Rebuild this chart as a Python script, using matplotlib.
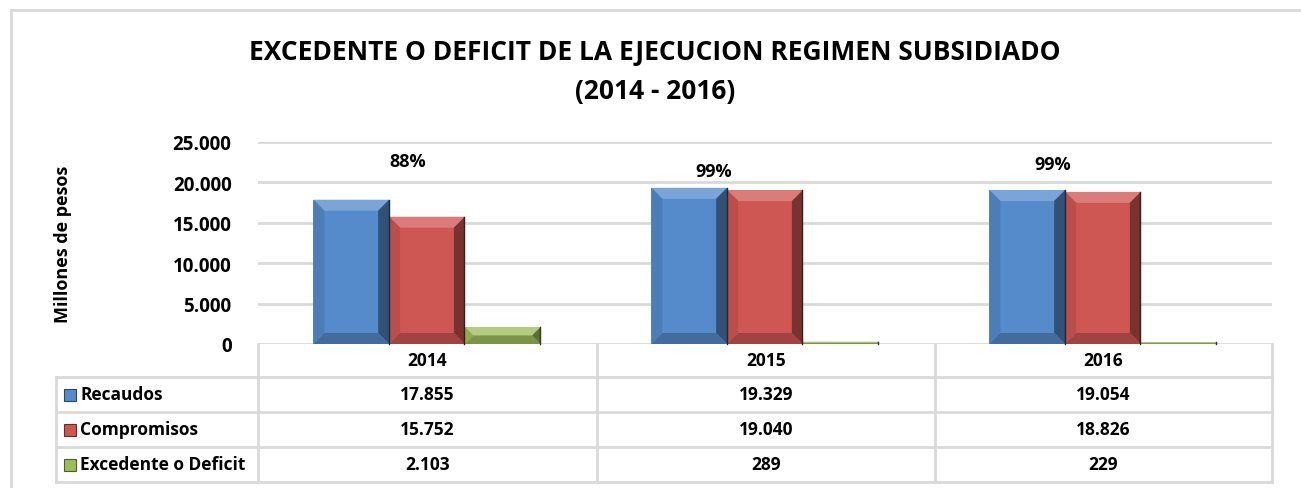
import matplotlib
matplotlib.use("Agg")
import matplotlib.pyplot as plt
from matplotlib.patches import Polygon, Rectangle
from matplotlib.lines import Line2D
from matplotlib.transforms import IdentityTransform
import numpy as np

# data
years = ["2014", "2015", "2016"]
recaudos = [17855, 19329, 19054]
compromisos = [15752, 19040, 18826]
excedente = [2103, 289, 229]
series_names = ["Recaudos", "Compromisos", "Excedente o Deficit"]
pct_labels = ["88%", "99%", "99%"]
yticks = [0, 5000, 10000, 15000, 20000, 25000]

colors = ["#558BCB", "#CF5753", "#9CBF5B"]
grid_c = "#D9D9D9"
FONT = "Open Sans"

W, H = 1301, 489
fig = plt.figure(figsize=(W / 100, H / 100), dpi=100)
plt.rcParams['font.family'] = [FONT, 'DejaVu Sans']


def fx(px):
    return px / W


def fy(py):
    return 1 - py / H


def fmt(v):
    return f"{v:,}".replace(",", ".")


def shade(c, f):
    c = np.array(matplotlib.colors.to_rgb(c))
    if f > 0:
        c = c + (1 - c) * f
    else:
        c = c * (1 + f)
    return tuple(np.clip(c, 0, 1))


# outer chart frame
fig.add_artist(Line2D([fx(11), fx(1301)], [fy(11), fy(11)], color=grid_c, lw=2))
fig.add_artist(Line2D([fx(11), fx(11)], [fy(11), fy(489)], color=grid_c, lw=2))

# plot area
ax_l, ax_r, ax_t, ax_b = 258, 1272, 143, 345
ax = fig.add_axes([fx(ax_l), fy(ax_b), fx(ax_r - ax_l), (ax_b - ax_t) / H])
ax.set_xlim(-0.5, 2.5)
ax.set_ylim(0, 25000)
for s in ax.spines.values():
    s.set_visible(False)
ax.set_xticks([])
ax.set_yticks(yticks)
ax.set_yticklabels([fmt(t) for t in yticks], fontsize=13.5, fontweight="bold")
ax.tick_params(axis="y", length=0, pad=19)
ax.yaxis.grid(True, color=grid_c, lw=2)
ax.set_axisbelow(True)
ax.set_ylabel("Millones de pesos", fontsize=13, fontweight="bold")
ax.yaxis.set_label_coords(-0.183, 0.5)

x = np.arange(len(years))
bw = 0.224
all_series = [recaudos, compromisos, excedente]
bars = []
for i, vals in enumerate(all_series):
    b = ax.bar(x + (i - 1) * bw, vals, bw, color=colors[i], zorder=3, linewidth=0)
    bars.append((b, colors[i]))

# bevel look
fig.canvas.draw()
for b, c in bars:
    for p in b.patches:
        x0, y0 = ax.transData.transform((p.get_x(), 0))
        x1, y1 = ax.transData.transform((p.get_x() + p.get_width(), p.get_height()))
        bv = min(11, (x1 - x0) / 2, (y1 - y0) / 2)
        ix0, ix1, iy0, iy1 = x0 + bv, x1 - bv, y0 + bv, y1 - bv
        faces = [
            ([(x0, y1), (x1, y1), (ix1, iy1), (ix0, iy1)], shade(c, 0.22)),
            ([(x1, y1), (x1, y0), (ix1, iy0), (ix1, iy1)], shade(c, -0.42)),
            ([(x0, y0), (x1, y0), (ix1, iy0), (ix0, iy0)], shade(c, -0.22)),
            ([(x0, y0), (x0, y1), (ix0, iy1), (ix0, iy0)], shade(c, -0.1)),
        ]
        for pts, fc in faces:
            fig.add_artist(Polygon(pts, closed=True, facecolor=fc, edgecolor="none",
                                   transform=IdentityTransform(), zorder=4))
        # thin dark outline on the right edge
        fig.add_artist(Line2D([x1 - 0.5, x1 - 0.5], [y0, y1], color=shade(c, -0.7), lw=1,
                              transform=IdentityTransform(), zorder=5))

# percent labels above the groups
pct_pos = [(-0.058, 22650), (0.848, 21410), (1.85, 22280)]
for (px, py), t in zip(pct_pos, pct_labels):
    ax.text(px, py, t, ha="center", va="center", fontsize=13, fontweight="bold")

# data table
col_x = [258, 597, 935, 1272]
row_y = [345, 378, 413, 448, 483]
lbl_l = 56
lw = 2
for cx in col_x:
    fig.add_artist(Line2D([fx(cx), fx(cx)], [fy(345), fy(483)], color=grid_c, lw=lw))
fig.add_artist(Line2D([fx(lbl_l), fx(lbl_l)], [fy(378), fy(483)], color=grid_c, lw=lw))
for ry in row_y[1:]:
    fig.add_artist(Line2D([fx(lbl_l), fx(1272)], [fy(ry), fy(ry)], color=grid_c, lw=lw))

for j, yr in enumerate(years):
    fig.text(fx((col_x[j] + col_x[j + 1]) / 2), fy((row_y[0] + row_y[1]) / 2), yr,
             ha="center", va="center", fontsize=12.5, fontweight="bold")

for i, (name, vals) in enumerate(zip(series_names, all_series)):
    cy = (row_y[i + 1] + row_y[i + 2]) / 2
    # legend key
    fig.add_artist(Rectangle((fx(64), fy(cy + 6)), fx(12), 12 / H, facecolor=colors[i],
                             edgecolor=shade(colors[i], -0.5), lw=0.8))
    fig.text(fx(80), fy(cy), name, ha="left", va="center", fontsize=12.5, fontweight="bold")
    for j, v in enumerate(vals):
        fig.text(fx((col_x[j] + col_x[j + 1]) / 2), fy(cy), fmt(v),
                 ha="center", va="center", fontsize=12.5, fontweight="bold")

# title
fig.text(fx(655), fy(52), "EXCEDENTE O DEFICIT DE LA EJECUCION REGIMEN SUBSIDIADO",
         ha="center", va="center", fontsize=19, fontweight="bold")
fig.text(fx(655), fy(92), "(2014 - 2016)", ha="center", va="center",
         fontsize=19, fontweight="bold")

fig.savefig("out.png", dpi=100)
